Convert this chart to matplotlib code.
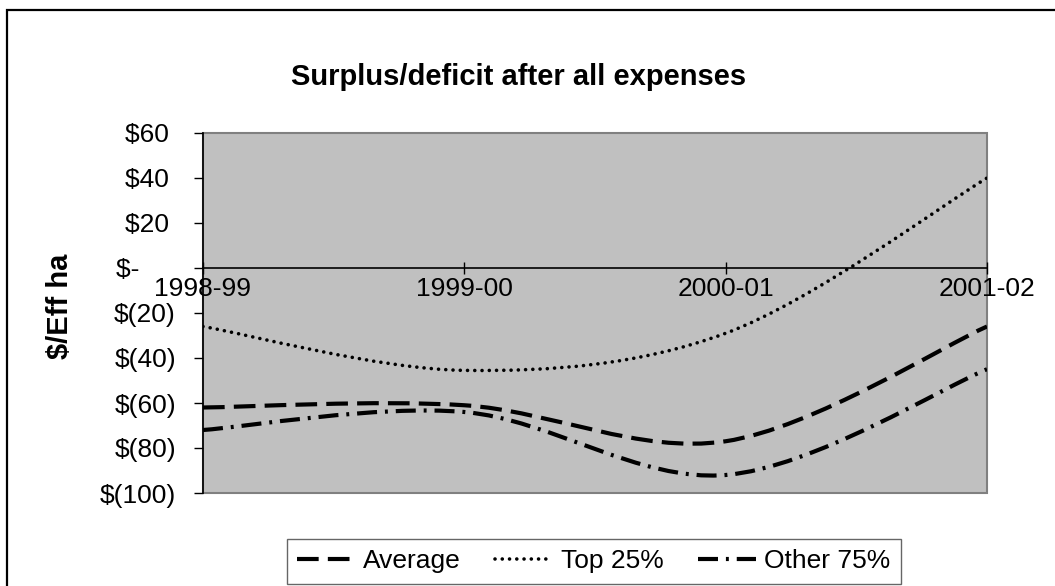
import matplotlib
matplotlib.use("Agg")
import matplotlib.pyplot as plt
import numpy as np
from matplotlib.path import Path
from matplotlib.patches import PathPatch, Rectangle
from matplotlib.lines import Line2D

plt.rcParams["font.family"] = ["Liberation Sans", "DejaVu Sans"]

years = ["1998-99", "1999-00", "2000-01", "2001-02"]
average = [-62, -61, -77, -26]
top25 = [-26, -45.5, -29, 40]
other75 = [-72, -64, -92, -45]

y_ticks = [60, 40, 20, 0, -20, -40, -60, -80, -100]

STYLES = {
    "Average": dict(lw=3.0, ls=(0, (5.2, 2.2)), cap="butt"),
    "Top 25%": dict(lw=2.6, ls=(0, (0.01, 2.0)), cap="round"),
    "Other 75%": dict(lw=3.0, ls=(0, (4.8, 1.9, 0.7, 1.9)), cap="butt"),
}


def smooth_path(xs, ys):
    """Excel-style smoothed line: cubic Bezier through every point."""
    pts = np.column_stack([xs, ys]).astype(float)
    n = len(pts)
    verts = [pts[0]]
    codes = [Path.MOVETO]
    for i in range(n - 1):
        p0 = pts[max(i - 1, 0)]
        p1 = pts[i]
        p2 = pts[i + 1]
        p3 = pts[min(i + 2, n - 1)]
        verts += [p1 + (p2 - p0) / 6, p2 - (p3 - p1) / 6, p2]
        codes += [Path.CURVE4] * 3
    return Path(verts, codes)


def money(v):
    # accounting format: positives/zero keep room for the closing bracket
    if v == 0:
        return "$-     "
    if v < 0:
        return f"$({-v:.0f})"
    return f"${v:.0f} "


fig = plt.figure(figsize=(10.55, 5.86), dpi=100)
ax = fig.add_axes([203 / 1055, 1 - 493 / 586, 784 / 1055, 360 / 586])
ax.set_facecolor("#C0C0C0")
ax.patch.set_edgecolor("#808080")
ax.patch.set_linewidth(1.5)

x = np.arange(len(years))
for name, vals in [("Average", average), ("Top 25%", top25), ("Other 75%", other75)]:
    st = STYLES[name]
    patch = PathPatch(smooth_path(x, vals), facecolor="none", edgecolor="black",
                      lw=st["lw"], linestyle=st["ls"], zorder=3)
    patch.set_capstyle(st["cap"])
    ax.add_patch(patch)

ax.set_xlim(0, 3)
ax.set_ylim(-100, 60)

for s in ("top", "right"):
    ax.spines[s].set_visible(False)
ax.spines["left"].set_color("black")
ax.spines["left"].set_linewidth(1.2)
ax.spines["bottom"].set_position(("data", 0))
ax.spines["bottom"].set_color("black")
ax.spines["bottom"].set_linewidth(1.2)

ax.set_yticks(y_ticks)
ax.set_yticklabels([money(v) for v in y_ticks], fontsize=19)
ax.tick_params(axis="y", direction="out", length=6.5, width=1, pad=13)

ax.set_xticks(x)
ax.set_xticklabels(years, fontsize=19)
ax.tick_params(axis="x", direction="inout", length=9, width=1, pad=2)
for lab in ax.get_xticklabels():
    lab.set_clip_on(False)

fig.text(0.492, 0.868, "Surplus/deficit after all expenses", fontsize=21,
         fontweight="bold", ha="center", va="center")
fig.text(0.057, 0.478, "$/Eff ha", fontsize=21, fontweight="bold",
         rotation=90, ha="center", va="center")

handles = []
for name in STYLES:
    st = STYLES[name]
    h = Line2D([], [], color="black", lw=st["lw"], linestyle=st["ls"])
    h.set_dash_capstyle(st["cap"])
    handles.append(h)
leg = fig.legend(handles, list(STYLES), loc="lower center", ncol=3,
                 bbox_to_anchor=(0.563, 0.004), fontsize=19, frameon=True,
                 fancybox=False, edgecolor="#404040", handlelength=2.2,
                 columnspacing=1.3, handletextpad=0.3, borderpad=0.4,
                 borderaxespad=0)
leg.get_frame().set_linewidth(1.0)

# outer chart border, running off the right and bottom edges
fig.add_artist(Rectangle((7 / 1055, -0.1), 1.2, 1 - 10 / 586 + 0.1,
                         transform=fig.transFigure, facecolor="none",
                         edgecolor="black", lw=1.6))

fig.savefig("out.png", dpi=100)
